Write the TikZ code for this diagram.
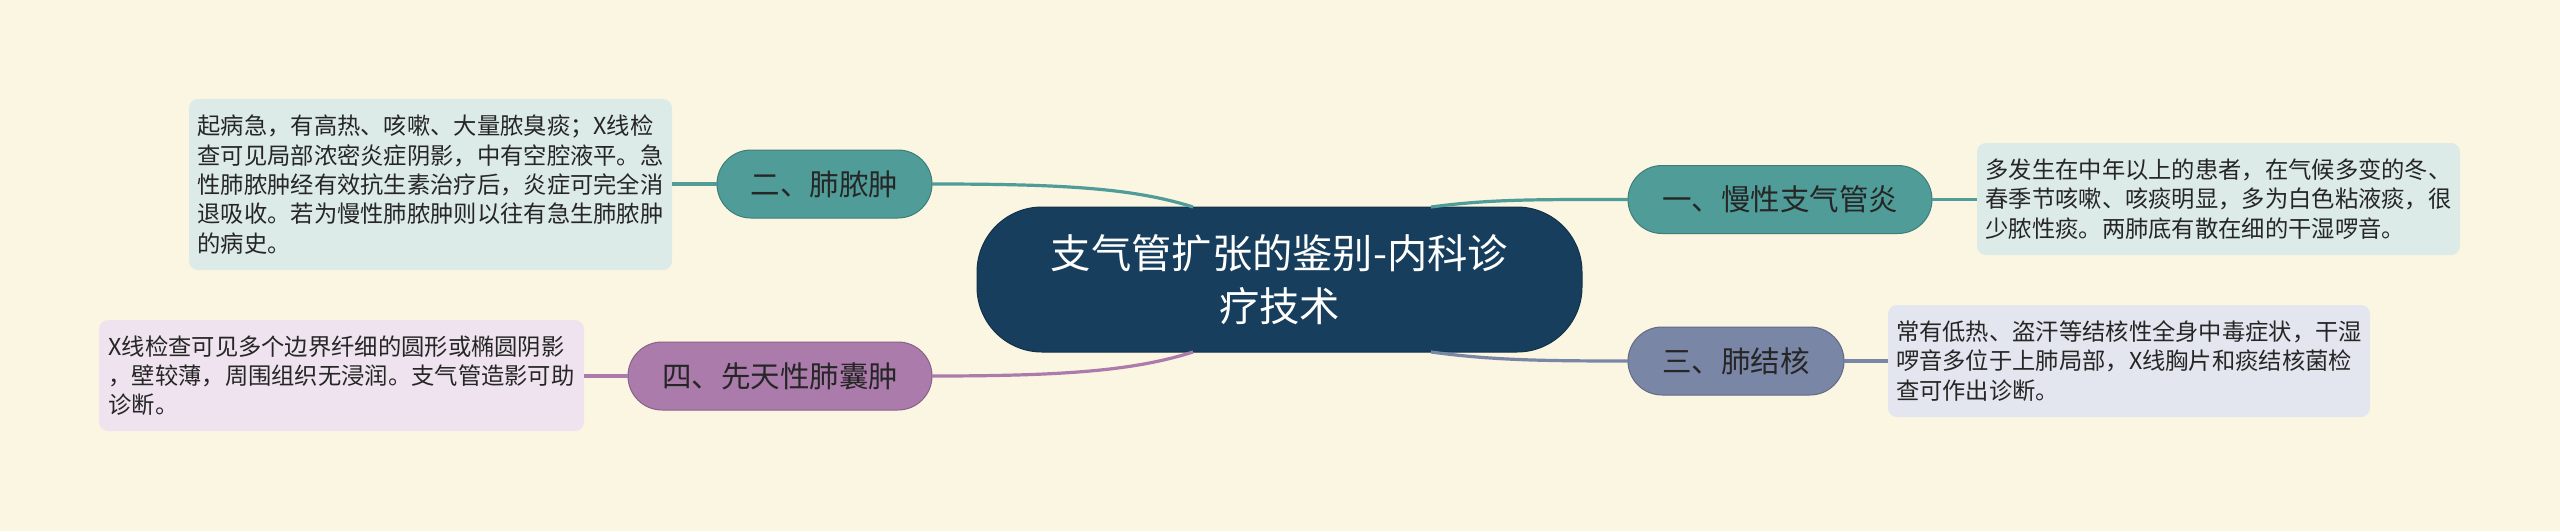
\documentclass[tikz,border=0pt]{standalone}
\usepackage{fontspec}
\setmainfont{Noto Sans CJK SC}
\usetikzlibrary{calc}
\definecolor{bg}{HTML}{FBF6E1}
\definecolor{navy}{HTML}{173E5D}
\definecolor{teal1}{HTML}{4F9C99}
\definecolor{slate1}{HTML}{7A86A6}
\definecolor{purp1}{HTML}{AA7BAB}
\definecolor{tealbox}{HTML}{DCEAE8}
\definecolor{slatebox}{HTML}{E3E6EE}
\definecolor{purpbox}{HTML}{EEE3EE}
\definecolor{ink}{HTML}{262626}
\tikzset{
  centerbox/.style={fill=navy, draw=navy!80!black, line width=1pt, rounded corners=65pt,
    minimum width=605pt, minimum height=145pt, inner sep=0pt, outer sep=0pt,
    text=white, align=center, font=\fontsize{40.3}{53}\selectfont},
  branchbox/.style={draw=#1!80!black, fill=#1, line width=1pt, rounded corners=34pt,
    minimum height=68pt, inner sep=0pt, outer sep=0pt, text=ink,
    font=\fontsize{29.5}{34}\selectfont},
  detailbox/.style={fill=#1, rounded corners=9pt, inner sep=0pt, outer sep=0pt,
    text=ink, align=left, font=\fontsize{23.3}{29.3}\selectfont},
  link/.style={draw=#1, line width=3.2pt},
}
\begin{document}
\begin{tikzpicture}[x=1pt,y=-1pt]
\useasboundingbox[fill=bg] (0,0) rectangle (2560,531);
% central
\node[centerbox] (c) at (1279.5,279.5) {支气管扩张的鉴别-内科诊\\疗技术};
% branches
\node[branchbox=teal1, minimum width=215pt] (b2) at (824.5,184) {二、肺脓肿};
\node[branchbox=teal1, minimum width=304pt] (b1) at (1780,199.5) {一、慢性支气管炎};
\node[branchbox=slate1, minimum width=216pt] (b3) at (1736,361) {三、肺结核};
\node[branchbox=purp1, minimum width=304pt] (b4) at (780,376) {四、先天性肺囊肿};
% details
\node[detailbox=tealbox, minimum width=483pt, minimum height=171pt] (d2) at (430.5,184.5)
  {起病急，有高热、咳嗽、大量脓臭痰；X线检\\查可见局部浓密炎症阴影，中有空腔液平。急\\性肺脓肿经有效抗生素治疗后，炎症可完全消\\退吸收。若为慢性肺脓肿则以往有急生肺脓肿\\的病史。};
\node[detailbox=tealbox, minimum width=483pt, minimum height=112pt] (d1) at (2218.5,199)
  {多发生在中年以上的患者，在气候多变的冬、\\春季节咳嗽、咳痰明显，多为白色粘液痰，很\\少脓性痰。两肺底有散在细的干湿啰音。};
\node[detailbox=slatebox, minimum width=482pt, minimum height=112pt] (d3) at (2129,361)
  {常有低热、盗汗等结核性全身中毒症状，干湿\\啰音多位于上肺局部，X线胸片和痰结核菌检\\查可作出诊断。};
\node[detailbox=purpbox, minimum width=485pt, minimum height=111pt] (d4) at (341.5,375.5)
  {X线检查可见多个边界纤细的圆形或椭圆阴影\\，壁较薄，周围组织无浸润。支气管造影可助\\诊断。};
% connectors centre -> branches
\draw[link=teal1] ([xshift=-86.5pt]c.north) .. controls +(-60,-19) and +(130,0) .. (b2.east);
\draw[link=teal1] ([xshift=151.5pt]c.north) .. controls +(60,-8) and +(-90,0) .. (b1.west);
\draw[link=slate1] ([xshift=151.5pt]c.south) .. controls +(60,8) and +(-90,0) .. (b3.west);
\draw[link=purp1] ([xshift=-86.5pt]c.south) .. controls +(-60,19) and +(130,0) .. (b4.east);
% branches -> details
\draw[link=teal1] (b2.west) -- (b2.west -| d2.east);
\draw[link=teal1] (b1.east) -- (b1.east -| d1.west);
\draw[link=slate1] (b3.east) -- (b3.east -| d3.west);
\draw[link=purp1] (b4.west) -- (b4.west -| d4.east);
\end{tikzpicture}
\end{document}
